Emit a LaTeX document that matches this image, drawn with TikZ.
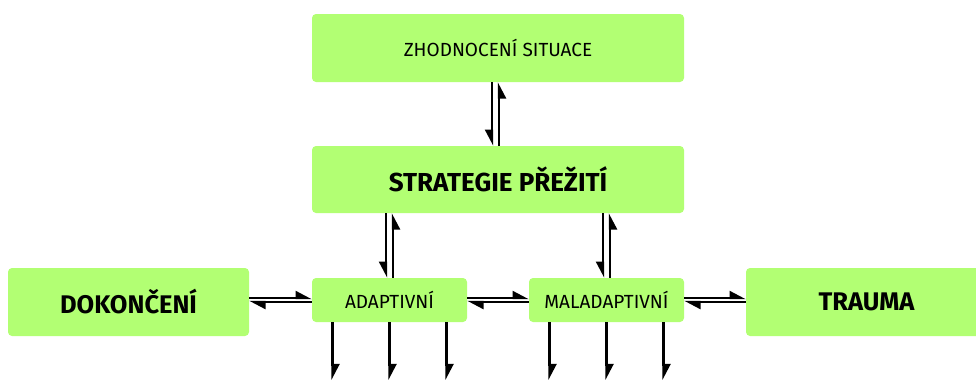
\documentclass[tikz,border=0pt]{standalone}
\usepackage{fontspec}
\setmainfont{Fira Sans}
\usetikzlibrary{arrows.meta}
\definecolor{boxgreen}{RGB}{178,255,115}

\begin{document}
\begin{tikzpicture}[x=1pt,y=-1pt,
    box/.style={fill=boxgreen, rounded corners=4pt, inner sep=0pt},
    harp/.style={line width=2.3pt, -{Triangle[harpoon,length=14pt,width=14pt]}},
    harpsw/.style={line width=2.3pt, -{Triangle[harpoon,swap,length=14pt,width=14pt]}}]
    \useasboundingbox (0,0) rectangle (976,380);
    % boxes
    \node[box, minimum width=372pt, minimum height=68pt, font=\fontsize{19}{21}\selectfont] (zhod) at (498,48) {ZHODNOCENÍ SITUACE};
    \node[box, minimum width=372pt, minimum height=67pt, font=\fontsize{26}{28}\selectfont\bfseries] (strat) at (498,179.5) {STRATEGIE PŘEŽITÍ};
    \node[box, minimum width=241pt, minimum height=68pt, font=\fontsize{25.5}{28}\selectfont\bfseries] (dokon) at (128.5,302) {DOKONČENÍ};
    \node[box, minimum width=155pt, minimum height=44pt, font=\fontsize{19}{21}\selectfont] (adapt) at (389.5,300) {ADAPTIVNÍ};
    \node[box, minimum width=155pt, minimum height=44pt, font=\fontsize{19}{21}\selectfont] (malad) at (606.5,300) {MALADAPTIVNÍ};
    \node[box, minimum width=241pt, minimum height=68pt, font=\fontsize{25.5}{28}\selectfont\bfseries] (trauma) at (866.5,302) {TRAUMA};
    % vertical pairs
    \draw[harpsw] ([xshift=-6pt]zhod.south) -- ([xshift=-6pt]strat.north);
    \draw[harpsw] ([xshift=1pt]strat.north) -- ([xshift=1pt]zhod.south);
    \draw[harpsw] ([xshift=-3.5pt]strat.south -| adapt) -- ([xshift=-3.5pt]adapt.north);
    \draw[harpsw] ([xshift=3.5pt]adapt.north) -- ([xshift=3.5pt]strat.south -| adapt);
    \draw[harpsw] ([xshift=-3.5pt]strat.south -| malad) -- ([xshift=-3.5pt]malad.north);
    \draw[harpsw] ([xshift=3.5pt]malad.north) -- ([xshift=3.5pt]strat.south -| malad);
    % horizontal pairs
    \draw[harp] ([yshift=2pt]dokon.east |- adapt) -- ([yshift=2pt]adapt.west);
    \draw[harp] ([yshift=-2pt]adapt.west) -- ([yshift=-2pt]dokon.east |- adapt);
    \draw[harp] ([yshift=2pt]adapt.east) -- ([yshift=2pt]malad.west);
    \draw[harp] ([yshift=-2pt]malad.west) -- ([yshift=-2pt]adapt.east);
    \draw[harp] ([yshift=2pt]malad.east) -- ([yshift=2pt]trauma.west |- malad);
    \draw[harp] ([yshift=-2pt]trauma.west |- malad) -- ([yshift=-2pt]malad.east);
    % outgoing arrows
    \foreach \dx in {-57,0,57} {
        \draw[harp] ([xshift=\dx pt]adapt.south) -- ++(0,58);
        \draw[harp] ([xshift=\dx pt]malad.south) -- ++(0,58);
    }
\end{tikzpicture}
\end{document}
